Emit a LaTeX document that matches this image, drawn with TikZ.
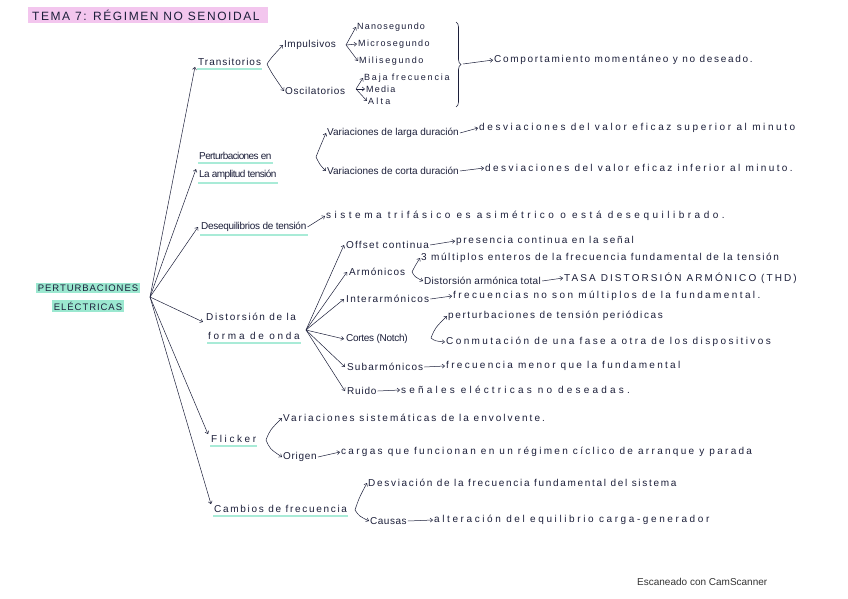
\documentclass[tikz,border=0pt]{standalone}
\usepackage{fontspec}
\setmainfont{Liberation Sans}
\newfontfamily\capsfont[LetterSpace=10]{Liberation Sans}
\newfontfamily\titlefont[LetterSpace=13]{Liberation Sans}
\usetikzlibrary{arrows.meta,decorations.pathreplacing}
\definecolor{ink}{HTML}{1C1F3A}
\definecolor{mint}{HTML}{9BE8D0}
\definecolor{pinkhl}{HTML}{F3C6EE}
\begin{document}
\begin{tikzpicture}[x=1pt,y=-1pt,
 txt/.style={anchor=west,inner sep=1pt,text=ink,font=\fontsize{10}{12}\selectfont},
 ls/.style={font=\fontsize{10}{12}\selectfont\addfontfeature{LetterSpace=#1}},
 lss/.style={font=\fontsize{9}{10}\selectfont\addfontfeature{LetterSpace=#1}},
 capst/.style={inner sep=1.5pt,text=ink,font=\capsfont\fontsize{9.5}{11}\selectfont},
 arr/.style={draw=ink,line width=0.5pt,-{Straight Barb[length=2.5pt,width=4pt]}},
 hl/.style={draw=mint,line width=2.5pt,opacity=0.85}
]
\fill[white] (0,0) rectangle (848,599);
\useasboundingbox (0,0) rectangle (848,599);

% title
\fill[pinkhl] (28,7) rectangle (268,23);
\node[anchor=west,inner sep=1pt,text=ink,font=\titlefont\fontsize{12}{14}\selectfont] (title) at (31,15.5) {TEMA 7: RÉGIMEN NO SENOIDAL};

% root
\node[capst,fill=mint] (r1) at (88,288) {PERTURBACIONES};
\node[capst,fill=mint] (r2) at (88,306) {ELÉCTRICAS};
\coordinate (hub) at (150,297);

% first level
\node[txt,ls=10] (trans) at (197,62) {Transitorios};
\node[txt,ls=-6] (pa1) at (198,156) {Perturbaciones en};
\node[txt,ls=-6] (pa2) at (198,175) {La amplitud tensión};
\node[txt,ls=-3] (deseq) at (200,227) {Desequilibrios de tensión};
\node[txt,ls=16] (dist1) at (205,317) {Distorsión de la};
\node[txt,ls=27] (dist2) at (207,336) {forma de onda};
\node[txt,ls=26] (flick) at (210,439) {Flicker};
\node[txt,ls=17] (camb) at (213,509) {Cambios de frecuencia};

\draw[arr] (hub) -- ([xshift=-2pt]trans.south west);
\draw[arr] (hub) -- ([xshift=-2pt]pa2.north west);
\draw[arr] (hub) -- ([xshift=-2pt]deseq.west);
\draw[arr] (hub) -- ([xshift=-2pt]dist1.south west);
\draw[arr] (hub) -- ([xshift=-2pt]flick.north west);
\draw[arr] (hub) -- ([xshift=-2pt]camb.north west);

% underlines
\draw[hl] ([yshift=-2pt]trans.south west) -- ([yshift=-2pt]trans.south east);
\draw[hl] ([yshift=-2pt]pa1.south west) -- ([yshift=-2pt]pa1.south east);
\draw[hl] ([yshift=-2pt]pa2.south west) -- ([yshift=-2pt]pa2.south east);
\draw[hl] ([yshift=-2pt]deseq.south west) -- ([yshift=-2pt]deseq.south east);
\draw[hl] ([yshift=-2pt]dist2.south west) -- ([yshift=-2pt]dist2.south east);
\draw[hl] ([yshift=-2pt]flick.south west) -- ([yshift=-2pt]flick.south east);
\draw[hl] ([yshift=-2pt]camb.south west) -- ([yshift=-2pt]camb.south east);

% Transitorios
\node[txt,ls=5] (imp) at (283,45) {Impulsivos};
\node[txt,ls=7] (osc) at (284,91) {Oscilatorios};
\coordinate (tb) at (267,64);
\draw[arr] (tb) .. controls +(4,-6) .. (imp.west);
\draw[arr] (tb) .. controls +(4,8) .. (osc.west);

\node[txt,lss=13] (nano) at (356,27) {Nanosegundo};
\node[txt,lss=15] (micro) at (357,44) {Microsegundo};
\node[txt,lss=18] (mili) at (358,61) {Milisegundo};
\coordinate (ib) at (346,45);
\draw[arr] (ib) -- (nano.west);
\draw[arr] (ib) -- (micro.west);
\draw[arr] (ib) -- (mili.west);

\node[txt,lss=20] (baja) at (363,78) {Baja frecuencia};
\node[txt,lss=13] (media) at (365,89) {Media};
\node[txt,lss=25] (alta) at (367,101) {Alta};
\coordinate (ob) at (356,89);
\draw[arr] (ob) -- (baja.west);
\draw[arr] (ob) -- (media.west);
\draw[arr] (ob) -- (alta.west);

\draw[ink,line width=0.6pt,decorate,decoration={brace,amplitude=5pt}] (456,22) -- (456,107);
\coordinate (bt) at (463,64);
\node[txt,ls=17] (comp) at (493,60) {Comportamiento momentáneo y no deseado.};
\draw[arr] (bt) -- (comp.west);

% Perturbaciones amplitud
\coordinate (pb) at (316,157);
\node[txt] (vl) at (326,133) {Variaciones de larga duración};
\node[txt,ls=26] (dl) at (478,128) {desviaciones del valor eficaz superior al minuto};
\node[txt] (vc) at (326,171) {Variaciones de corta duración};
\node[txt,ls=24] (dc) at (484,168) {desviaciones del valor eficaz inferior al minuto.};
\draw[arr] (pb) .. controls +(4,-10) .. (vl.west);
\draw[arr] (pb) .. controls +(4,8) .. (vc.west);
\draw[arr] (vl.east) -- (dl.west);
\draw[arr] (vc.east) -- (dc.west);

% Desequilibrios
\node[txt,ls=35] (sist) at (325,216) {sistema trifásico es asimétrico o está desequilibrado.};
\draw[arr] (deseq.east) -- (sist.west);

% Distorsion
\coordinate (dh) at (306,330);
\node[txt,ls=12] (offset) at (345,245) {Offset continua};
\node[txt,ls=17] (pres) at (455,241) {presencia continua en la señal};
\node[txt,ls=11] (arm) at (348,272) {Armónicos};
\node[txt,ls=16] (mult) at (420,258) {3 múltiplos enteros de la frecuencia fundamental de la tensión};
\node[txt,ls=3] (thda) at (423,281) {Distorsión armónica total};
\node[txt,ls=21] (thd) at (563,278) {TASA DISTORSIÓN ARMÓNICO (THD)};
\node[txt,ls=13] (inter) at (345,299) {Interarmónicos};
\node[txt,ls=24] (interr) at (452,296) {frecuencias no son múltiplos de la fundamental.};
\node[txt,ls=-3] (cortes) at (345,339) {Cortes (Notch)};
\node[txt,ls=16] (perio) at (447,316) {perturbaciones de tensión periódicas};
\node[txt,ls=24] (conm) at (445,342) {Conmutación de una fase a otra de los dispositivos};
\node[txt,ls=11] (sub) at (346,367) {Subarmónicos};
\node[txt,ls=23] (subr) at (445,366) {frecuencia menor que la fundamental};
\node[txt,ls=8] (ruido) at (346,391) {Ruido};
\node[txt,ls=32] (ruidor) at (400,390) {señales eléctricas no deseadas.};

\draw[arr] (dh) -- ([xshift=-1pt]offset.west);
\draw[arr] (dh) -- ([xshift=-1pt]arm.west);
\draw[arr] (dh) -- ([xshift=-1pt]inter.west);
\draw[arr] (dh) -- ([xshift=-1pt]cortes.west);
\draw[arr] (dh) -- ([xshift=-1pt]sub.west);
\draw[arr] (dh) -- ([xshift=-1pt]ruido.west);

\draw[arr] (offset.east) -- (pres.west);
\coordinate (ab) at (412,272);
\draw[arr] (ab) .. controls +(3,-6) .. (mult.west);
\draw[arr] (ab) .. controls +(3,5) .. (thda.west);
\draw[arr] (thda.east) -- (thd.west);
\draw[arr] (inter.east) -- (interr.west);
\coordinate (cb) at (431,338);
\draw[arr] (cb) .. controls +(4,-10) .. (perio.west);
\draw[arr] (cb) .. controls +(4,3) .. (conm.west);
\draw[arr] (sub.east) -- (subr.west);
\draw[arr] (ruido.east) -- (ruidor.west);

% Flicker
\coordinate (fb) at (266,440);
\node[txt,ls=20] (varsis) at (282,418) {Variaciones sistemáticas de la envolvente.};
\node[txt,ls=7] (orig) at (282,457) {Origen};
\node[txt,ls=23] (origr) at (340,452) {cargas que funcionan en un régimen cíclico de arranque y parada};
\draw[arr] (fb) .. controls +(4,-10) .. (varsis.west);
\draw[arr] (fb) .. controls +(4,9) .. (orig.west);
\draw[arr] (orig.east) -- (origr.west);

% Cambios de frecuencia
\coordinate (kb) at (355,510);
\node[txt,ls=17] (desv) at (367,483) {Desviación de la frecuencia fundamental del sistema};
\node[txt,ls=5] (causas) at (369,521) {Causas};
\node[txt,ls=26] (causasr) at (433,520) {alteración del equilibrio carga-generador};
\draw[arr] (kb) .. controls +(4,-12) .. (desv.west);
\draw[arr] (kb) .. controls +(4,6) .. (causas.west);
\draw[arr] (causas.east) -- (causasr.west);

% footer
\node[anchor=west,inner sep=1pt,text=black!80,font=\fontsize{10}{12}\selectfont] (foot) at (636,582) {Escaneado con CamScanner};
\end{tikzpicture}
\end{document}
